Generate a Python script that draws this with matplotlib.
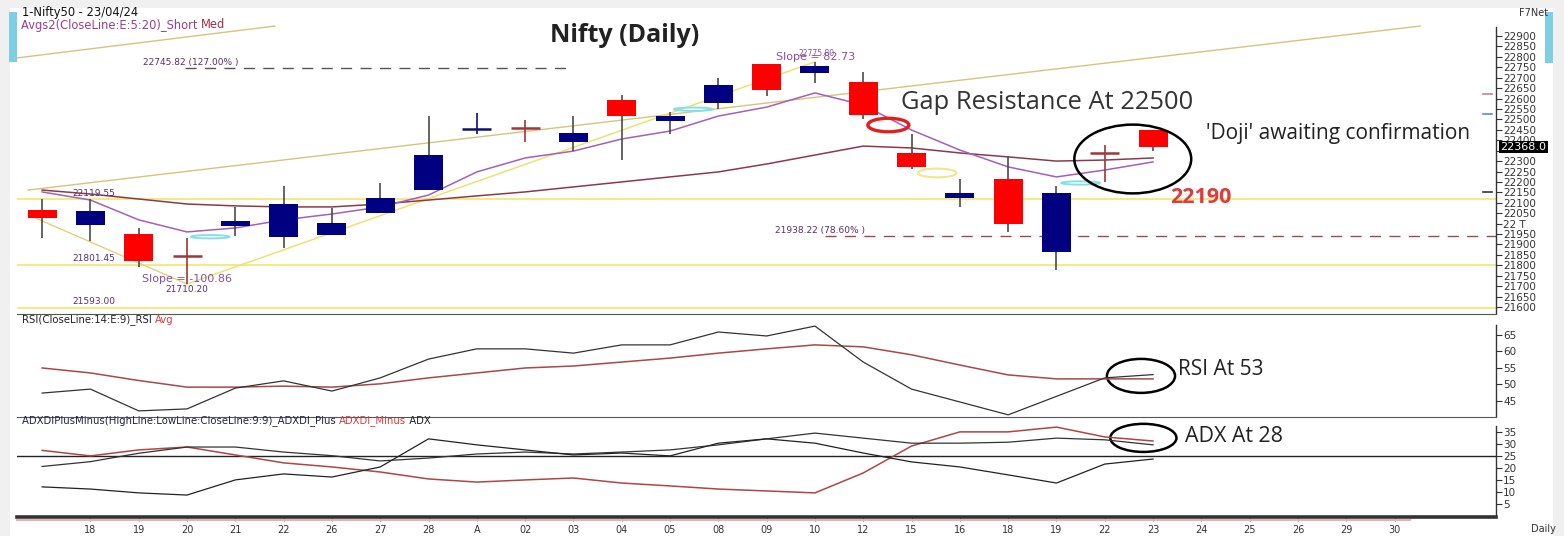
import numpy as np
import matplotlib.pyplot as plt
from matplotlib.patches import Ellipse, Rectangle
from matplotlib.lines import Line2D

W, H = 1564, 536

# ---- data ----
dates = ['', '18', '19', '20', '21', '22', '26', '27', '28', 'A', '02', '03', '04', '05',
         '08', '09', '10', '12', '15', '16', '18', '19', '22', '23',
         '24', '25', '26', '29', '30']

opens  = [22065, 21995, 21950, 21845, 21990, 21935, 21947, 22053, 22163, 22455, 22458, 22392,
          22593, 22490, 22580, 22766, 22722, 22679, 22339, 22125, 22212, 21862, 22337, 22447]
highs  = [22118, 22120, 21980, 21932, 22080, 22180, 22073, 22193, 22516, 22530, 22497, 22516,
          22619, 22537, 22697, 22768, 22776, 22727, 22428, 22214, 22326, 22179, 22375, 22448]
lows   = [21932, 21918, 21792, 21710, 21941, 21883, 21947, 22052, 22163, 22430, 22390, 22348,
          22305, 22430, 22550, 22612, 22675, 22503, 22260, 22080, 21961, 21778, 22199, 22349]
closes = [22025, 22060, 21820, 21840, 22012, 22096, 22005, 22124, 22327, 22462, 22453, 22434,
          22515, 22514, 22666, 22642, 22754, 22519, 22272, 22148, 21996, 22147, 22336, 22368]

ema5  = [22152, 22113, 22018, 21960, 21979, 22018, 22046, 22080, 22137, 22248, 22315, 22348,
         22406, 22444, 22516, 22559, 22627, 22569, 22449, 22353, 22272, 22224, 22257, 22296]
ema20 = [22161, 22142, 22118, 22094, 22085, 22080, 22080, 22094, 22113, 22133, 22152, 22176,
         22200, 22224, 22248, 22286, 22329, 22372, 22363, 22339, 22320, 22300, 22305, 22315]

rsi     = [47.4, 48.6, 42.0, 42.6, 48.9, 51.1, 48.0, 52.0, 57.7, 60.8, 60.8, 59.5,
           62.0, 62.0, 65.9, 64.7, 67.7, 56.8, 48.6, 44.7, 40.8, 46.4, 52.0, 53.0]
rsi_avg = [55.0, 53.5, 51.2, 49.2, 49.2, 49.5, 49.2, 50.2, 52.0, 53.5, 55.0, 55.6,
           56.8, 58.0, 59.5, 60.8, 62.0, 61.4, 59.0, 55.9, 52.9, 51.7, 51.7, 51.7]

di_plus  = [12.0, 11.1, 9.5, 8.6, 14.9, 17.4, 16.1, 20.3, 32.0, 29.5, 27.4, 25.3,
            26.1, 24.9, 30.2, 32.0, 30.2, 26.1, 22.4, 20.3, 17.0, 13.6, 21.5, 23.6]
di_minus = [27.2, 24.9, 27.4, 28.6, 25.3, 22.0, 20.3, 18.2, 15.3, 14.0, 14.9, 15.7,
            13.6, 12.4, 11.1, 10.3, 9.5, 17.8, 29.0, 34.9, 34.9, 36.9, 32.8, 31.1]
adx      = [20.5, 22.5, 26.0, 28.6, 28.6, 26.5, 25.0, 22.8, 24.0, 25.7, 26.5, 25.7,
            26.5, 27.4, 29.5, 32.0, 34.4, 32.3, 30.2, 30.2, 30.6, 32.3, 31.6, 29.5]

price_ticks = list(range(21600, 22901, 50))
rsi_ticks = [45, 50, 55, 60, 65]
adx_ticks = [5, 10, 15, 20, 25, 30, 35]

levels = [22119.55, 21801.45, 21593.00]
fib_127 = 22745.82
fib_786 = 21938.22
swing_start = 22042.0
swing_low = 21710.20
swing_high = 22775.80
channel = [(-0.29, 22161), (28.53, 22948)]
channel_top = [(-0.52, 22795), (4.82, 22948)]
last_close = 22368.0
edge_marks = [(22620, '#b08aa8'), (22525, '#5a8fbf'), (22152, '#333333')]

# ---- figure ----
plt.rcParams['font.family'] = ['DejaVu Sans']
fig = plt.figure(figsize=(W / 100, H / 100), dpi=100, facecolor='#f0f0f0')


def rect(x0, y0, x1, y1):
    return [x0 / W, 1 - y1 / H, (x1 - x0) / W, (y1 - y0) / H]


def fx(x):
    return x / W


def fy(y):
    return 1 - y / H


fig.patches.append(Rectangle((fx(10), 0), fx(1553) - fx(10), fy(8), transform=fig.transFigure,
                             facecolor='white', edgecolor='none', zorder=-2))
fig.patches.append(Rectangle((fx(9), fy(62)), fx(8), fy(12) - fy(62), transform=fig.transFigure,
                             facecolor='#7ecfe3', edgecolor='none', zorder=-1))
fig.patches.append(Rectangle((fx(1545), fy(63)), fx(8), fy(12) - fy(63), transform=fig.transFigure,
                             facecolor='#7ecfe3', edgecolor='none', zorder=-1))

ax = fig.add_axes(rect(17, 10, 1496, 313))
ax_rsi = fig.add_axes(rect(17, 314, 1496, 416))
ax_adx = fig.add_axes(rect(17, 417, 1496, 517))

n = len(closes)
x = np.arange(n)
xlim = (-0.52, 30.1)

for a in (ax, ax_rsi, ax_adx):
    a.set_zorder(1)
    a.set_facecolor('none')
    a.set_xlim(*xlim)
    for s in ('left', 'top', 'bottom'):
        a.spines[s].set_visible(False)
    a.spines['right'].set_color('#333333')
    a.spines['right'].set_linewidth(1)
    a.yaxis.tick_right()
    a.tick_params(axis='y', direction='out', length=4, width=0.8, pad=1,
                  labelsize=7.5, colors='#333333')
    a.tick_params(axis='x', bottom=False, labelbottom=False)

# ---- price panel ----
ax.set_ylim(21571, 23025)
ax.spines['right'].set_bounds(21571, 22943)
ax.set_yticks(price_ticks)
ax.set_yticklabels(['22 T' if p == 22000 else ('' if p == 22350 else str(p)) for p in price_ticks])

for lv in levels:
    ax.axhline(lv, color='#f2e87a', lw=1.3, zorder=1)

ax.plot([p[0] for p in channel], [p[1] for p in channel], color='#d9c27a', lw=1, zorder=1)
ax.plot([p[0] for p in channel_top], [p[1] for p in channel_top], color='#d9c27a', lw=1, zorder=1)
ax.plot([-0.29, 3], [swing_start, swing_low], color='#e3d07c', lw=1, zorder=1)
ax.plot([3, 16], [swing_low, swing_high], color='#f0e070', lw=1.1, zorder=1)

ax.plot([2.96, 11.0], [fib_127, fib_127], color='#555555', lw=1, dashes=(8, 6))
ax.plot([16.2, xlim[1]], [fib_786, fib_786], color='#9b4a50', lw=1, dashes=(8, 6))

ax.plot(x, ema20, color='#8b3a4a', lw=1.1, zorder=2)
ax.plot(x, ema5, color='#a55fb5', lw=1.1, zorder=2)

for val, col in edge_marks:
    ax.axhline(val, xmin=0.991, xmax=0.997, color=col, lw=1.2)

for i in range(n):
    o, h, l, c = opens[i], highs[i], lows[i], closes[i]
    up = c >= o
    if abs(c - o) < 10:
        col = '#0b1170' if up else '#a0353a'
        ax.vlines(i, l, h, color=col, lw=1.2, zorder=3)
        ax.hlines(o, i - 0.3, i + 0.3, color=col, lw=1.8, zorder=4)
    else:
        col = '#000080' if up else '#ff0000'
        ax.vlines(i, l, h, color='#4a4a4a', lw=1.2, zorder=3)
        ax.bar(i, max(abs(c - o), 10), bottom=min(o, c), width=0.6, color=col,
               edgecolor='none', zorder=4)

# small labels
lab = dict(fontsize=6.5, color='#5a2d6e')
ax.text(0.62, levels[0] + 25, '22119.55', va='center', **lab)
ax.text(0.62, levels[1] + 33, '21801.45', va='center', **lab)
ax.text(0.62, levels[2] + 31, '21593.00', va='center', **lab)
ax.text(3.0, 21683, '21710.20', ha='center', va='center', **lab)
ax.text(3.0, 21735, 'Slope = -100.86', ha='center', va='center', fontsize=8, color='#8a50a0')
ax.text(2.09, 22775, '22745.82 (127.00% )', va='center', **lab)
ax.text(15.18, 21965, '21938.22 (78.60% )', va='center', **lab)
ax.text(15.2, 22800, 'Slope = 82.73', va='center', fontsize=8, color='#8a50a0')
ax.text(15.65, 22818, '22775.80', va='center', fontsize=5.5, color='#8a50a0')

# annotations
ax.add_patch(Ellipse((17.52, 22473), 0.85, 65, fill=False, edgecolor='#e02020', lw=2.4, zorder=5))
ax.add_patch(Ellipse((18.53, 22243), 0.8, 42, fill=False, edgecolor='#f0e68c', lw=1.5, zorder=5))
for cx, cy in [(3.48, 21937), (13.48, 22549), (21.5, 22195)]:
    ax.add_patch(Ellipse((cx, cy), 0.8, 16, fill=False, edgecolor='#86dfe8', lw=1.4, zorder=5))
ax.add_patch(Ellipse((22.58, 22310), 2.42, 330, fill=False, edgecolor='black', lw=1.8, zorder=5))

ax.text(20.8, 22579, 'Gap Resistance At 22500', ha='center', va='center',
        fontsize=18.4, family='Open Sans', color='#333333')
ax.text(26.83, 22430, "'Doji' awaiting confirmation", ha='center', va='center',
        fontsize=15, family='Open Sans', color='#222222')
ax.text(24.0, 22126, '22190', ha='center', va='center', fontsize=15.5, family='Open Sans',
        fontweight='bold', color='#e03a3a')

ax.text(1.003, last_close, f'{last_close:.1f}', transform=ax.get_yaxis_transform(),
        va='center', ha='left', fontsize=8, color='white', clip_on=False, zorder=10,
        bbox=dict(boxstyle='square,pad=0.1', facecolor='black', edgecolor='none'))

# ---- RSI panel ----
ax_rsi.set_ylim(40.45, 71.36)
ax_rsi.spines['right'].set_bounds(40.45, 68)
ax_rsi.set_yticks(rsi_ticks)
ax_rsi.spines['top'].set_visible(True)
ax_rsi.spines['top'].set_color('#555555')
ax_rsi.plot(x, rsi_avg, color='#a84848', lw=1.1)
ax_rsi.plot(x, rsi, color='#333333', lw=0.9)
ax_rsi.add_patch(Ellipse((22.75, 52.6), 1.41, 10.3, fill=False, edgecolor='black', lw=1.8))
ax_rsi.text(23.52, 54.4, 'RSI At 53', va='center', fontsize=15, family='Open Sans',
            color='#222222')

# ---- ADX panel ----
ax_adx.set_ylim(-0.54, 41.1)
ax_adx.spines['right'].set_bounds(-0.54, 37.4)
ax_adx.set_yticks(adx_ticks)
ax_adx.spines['top'].set_visible(True)
ax_adx.spines['top'].set_color('#555555')
ax_adx.spines['bottom'].set_visible(True)
ax_adx.spines['bottom'].set_linewidth(2.6)
ax_adx.spines['bottom'].set_color('#333333')
ax_adx.axhline(25, color='#222222', lw=1)
ax_adx.plot(x, di_minus, color='#b04545', lw=1.1)
ax_adx.plot(x, adx, color='#333333', lw=0.9)
ax_adx.plot(x, di_plus, color='#222222', lw=0.9)
ax_adx.add_patch(Ellipse((22.8, 32.4), 1.37, 11.7, fill=False, edgecolor='black', lw=1.8))
ax_adx.text(23.66, 32.8, 'ADX At 28', va='center', fontsize=15.4, family='Open Sans',
            color='#222222')

ax_adx.set_xticks(np.arange(1, len(dates)))
ax_adx.set_xticklabels(dates[1:])
ax_adx.tick_params(axis='x', bottom=True, labelbottom=True, length=3, width=0.8,
                   colors='#666666', labelcolor='#333333', labelsize=7, pad=3)

fig.add_artist(Line2D([fx(17), fx(1410)], [fy(520), fy(520)], color='#e2b4b4', lw=1.5))

# ---- header texts ----
renderer = fig.canvas.get_renderer()


def multi_text(xp, yp, parts, size=8.3):
    xpos = fx(xp)
    for s, col in parts:
        t = fig.text(xpos, fy(yp), s, color=col, fontsize=size, va='center', ha='left')
        bb = t.get_window_extent(renderer=renderer)
        xpos += bb.width / W


multi_text(22, 12.5, [('1-Nifty50 - 23/04/24', '#111111')])
multi_text(21, 25, [('Avgs2(CloseLine:E:5:20)_Short ', '#9a3e94'), ('Med', '#a0304a')])
multi_text(22, 320, [('RSI(CloseLine:14:E:9)_RSI ', '#222222'), ('Avg', '#d04040')], size=7.3)
multi_text(22, 421, [('ADXDIPlusMinus(HighLine:LowLine:CloseLine:9:9)_ADXDI_Plus ', '#222244'),
                     ('ADXDI_Minus', '#d04040'), (' ADX', '#222222')], size=7.3)

fig.text(fx(625), fy(36), 'Nifty (Daily)', ha='center', va='center', fontsize=18,
         family='Open Sans', fontweight='bold', color='#222222')
fig.text(fx(1548), fy(13), 'F7Net', ha='right', va='center', fontsize=7, color='#333333')
fig.text(fx(1543), fy(529), 'Daily', ha='center', va='center', fontsize=7, color='#333333')

fig.savefig('out.png', dpi=100, facecolor=fig.get_facecolor())
